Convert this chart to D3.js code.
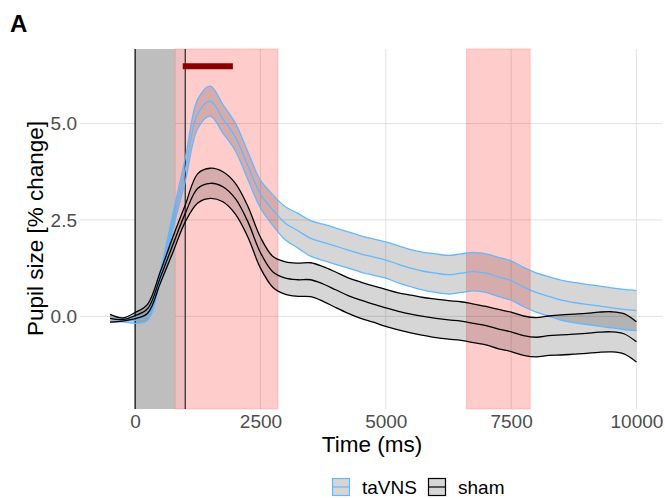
<!DOCTYPE html>
<html lang="en">
<head>
    <meta charset="UTF-8">
    <title>Pupil size - taVNS vs sham</title>
    <style>
        body{ margin:0; background:#fff;}
        svg{ display:block; font-family:"Liberation Sans", Arial, sans-serif;}
        .grid line{ stroke:#e2e2e2; stroke-width:1;}
        .tick text{ fill:#4d4d4d; font-size:19px;}
    </style>
</head>
<body>

<script src="https://cdn.jsdelivr.net/npm/d3@7"></script>
<script>

// time axis (ms)
var time = [-500, -250, 0, 250, 500, 750, 1000, 1250, 1500, 1750, 2000, 2250, 2500, 2750,
    3000, 3250, 3500, 3750, 4000, 4250, 4500, 4750, 5000, 5250, 5500, 5750, 6000, 6250,
    6500, 6750, 7000, 7250, 7500, 7750, 8000, 8250, 8500, 8750, 9000, 9250, 9500, 9750, 10000];

// mean pupil size (% change) and half width of the band
var tavnsMean = [-0.05, -0.10, -0.10, 0.00, 1.05, 2.45, 3.80, 5.25, 5.58, 5.12, 4.65, 3.90, 3.17, 2.75,
    2.41, 2.22, 2.02, 1.92, 1.82, 1.72, 1.62, 1.54, 1.46, 1.35, 1.25, 1.17, 1.12, 1.08,
    1.12, 1.16, 1.12, 1.02, 0.93, 0.76, 0.62, 0.52, 0.42, 0.36, 0.31, 0.27, 0.22, 0.18, 0.15];
var tavnsCi = [0.10, 0.04, 0.08, 0.10, 0.12, 0.20, 0.30, 0.38, 0.39, 0.37, 0.36, 0.36, 0.36, 0.40,
    0.43, 0.45, 0.46, 0.47, 0.47, 0.47, 0.47, 0.47, 0.47, 0.48, 0.48, 0.49, 0.50, 0.50,
    0.50, 0.50, 0.50, 0.51, 0.51, 0.51, 0.51, 0.51, 0.52, 0.52, 0.52, 0.52, 0.52, 0.52, 0.52];

var shamMean = [-0.05, -0.08, 0.02, 0.20, 1.00, 1.85, 2.67, 3.32, 3.45, 3.36, 3.05, 2.45, 1.65, 1.15,
    0.99, 0.95, 0.95, 0.84, 0.69, 0.54, 0.42, 0.32, 0.22, 0.13, 0.06, 0.00, -0.05, -0.09,
    -0.12, -0.18, -0.24, -0.33, -0.40, -0.50, -0.54, -0.50, -0.48, -0.46, -0.44, -0.41, -0.40, -0.45, -0.66];
var shamCi = [0.10, 0.04, 0.08, 0.12, 0.15, 0.20, 0.22, 0.38, 0.39, 0.39, 0.40, 0.40, 0.40, 0.40,
    0.42, 0.43, 0.44, 0.45, 0.46, 0.46, 0.47, 0.47, 0.48, 0.48, 0.49, 0.49, 0.50, 0.50,
    0.50, 0.50, 0.50, 0.51, 0.51, 0.51, 0.51, 0.51, 0.52, 0.52, 0.52, 0.52, 0.52, 0.52, 0.52];

// shaded windows (ms)
var baselineWin = [0, 800];
var stimWin = [800, 1000];
var sigWins = [[800, 2850], [6610, 7880]];
var sigBar = [950, 1950];
var markers = [0, 1000];

var xTicks = [0, 2500, 5000, 7500, 10000];
var yTicks = [0, 2.5, 5];

var groups = ["taVNS", "sham"];
var groupColor = { taVNS: "#63B8FF", sham: "#000000" };

var width = 665, height = 498;
var panel = { left: 80, right: 662, top: 49, bottom: 409 };

var svg = d3.select("body").append("svg")
        .attr("width", width)
        .attr("height", height);

var x = d3.scaleLinear().domain([-1100, 10510]).range([panel.left, panel.right]);
var y = d3.scaleLinear().domain([-2.40, 6.93]).range([panel.bottom, panel.top]);

// grid
var grid = svg.append("g").attr("class", "grid");
grid.selectAll(".gx").data(xTicks).enter().append("line")
        .attr("x1", function(d){ return x(d); }).attr("x2", function(d){ return x(d); })
        .attr("y1", panel.top).attr("y2", panel.bottom);
grid.selectAll(".gy").data(yTicks).enter().append("line")
        .attr("x1", panel.left).attr("x2", panel.right)
        .attr("y1", function(d){ return y(d); }).attr("y2", function(d){ return y(d); });

// baseline window
svg.append("rect")
        .attr("x", x(baselineWin[0])).attr("width", x(baselineWin[1]) - x(baselineWin[0]))
        .attr("y", panel.top).attr("height", panel.bottom - panel.top)
        .attr("fill", "#bebebe");

// significant windows
svg.selectAll(".sig").data(sigWins).enter().append("rect")
        .attr("x", function(d){ return x(d[0]); })
        .attr("width", function(d){ return x(d[1]) - x(d[0]); })
        .attr("y", panel.top).attr("height", panel.bottom - panel.top)
        .attr("fill", "rgba(255,0,0,0.2)")
        .attr("stroke", "rgba(255,120,120,0.35)");

svg.append("rect")
        .attr("x", x(stimWin[0])).attr("width", x(stimWin[1]) - x(stimWin[0]))
        .attr("y", panel.top).attr("height", panel.bottom - panel.top)
        .attr("fill", "rgba(0,0,0,0.06)");

// build rows
function rows(mean, ci){
    return time.map(function(t, i){
        return { t: t, m: mean[i], lo: mean[i] - ci[i], hi: mean[i] + ci[i] };
    });
}
var series = {
    taVNS: rows(tavnsMean, tavnsCi),
    sham: rows(shamMean, shamCi)
};

var curve = d3.curveCatmullRom.alpha(0.5);
var area = d3.area().curve(curve)
        .x(function(d){ return x(d.t); })
        .y0(function(d){ return y(d.lo); })
        .y1(function(d){ return y(d.hi); });

function lineOf(key){
    return d3.line().curve(curve)
            .x(function(d){ return x(d.t); })
            .y(function(d){ return y(d[key]); });
}

groups.forEach(function(g){
    svg.append("path").attr("d", area(series[g]))
            .attr("fill", "rgba(0,0,0,0.16)");
});

// marker lines
svg.selectAll(".mk").data(markers).enter().append("line")
        .attr("x1", function(d){ return x(d); }).attr("x2", function(d){ return x(d); })
        .attr("y1", panel.top).attr("y2", panel.bottom)
        .attr("stroke", function(d, i){ return i === 0 ? "#111" : "#333"; })
        .attr("stroke-width", 1.3);

groups.forEach(function(g){
    ["lo", "m", "hi"].forEach(function(k){
        svg.append("path").attr("d", lineOf(k)(series[g]))
                .attr("fill", "none")
                .attr("stroke", groupColor[g])
                .attr("stroke-width", 1.3);
    });
});

// significance bar
svg.append("line")
        .attr("x1", x(sigBar[0])).attr("x2", x(sigBar[1]))
        .attr("y1", y(6.48)).attr("y2", y(6.48))
        .attr("stroke", "#8B0000").attr("stroke-width", 6);

// axes
var xAxis = svg.append("g")
        .attr("transform", "translate(0," + panel.bottom + ")")
        .call(d3.axisBottom(x).tickValues(xTicks).tickSize(0).tickPadding(6).tickFormat(d3.format("d")));
xAxis.select(".domain").remove();

var yAxis = svg.append("g")
        .attr("transform", "translate(" + panel.left + ",0)")
        .call(d3.axisLeft(y).tickValues(yTicks).tickSize(0).tickPadding(3).tickFormat(d3.format(".1f")));
yAxis.select(".domain").remove();

svg.append("text")
        .attr("x", 372).attr("y", 452)
        .attr("text-anchor", "middle")
        .style("font-size", "22.5px")
        .text("Time (ms)");

svg.append("text")
        .attr("transform", "translate(43,228.5) rotate(-90)")
        .attr("text-anchor", "middle")
        .style("font-size", "22.5px")
        .text("Pupil size [% change]");

svg.append("text")
        .attr("x", 10).attr("y", 32)
        .style("font-size", "24px").style("font-weight", "bold")
        .text("A");

// legend
var legend = svg.append("g").attr("transform", "translate(332,478)");
var keyX = { taVNS: 0, sham: 96 };
groups.forEach(function(g){
    var k = legend.append("g").attr("transform", "translate(" + keyX[g] + ",0)");
    k.append("rect").attr("x", 0.5).attr("y", 0.5).attr("width", 17).attr("height", 17)
            .attr("fill", "rgba(0,0,0,0.16)").attr("stroke", groupColor[g]).attr("stroke-width", 1.2);
    k.append("line").attr("x1", 0.5).attr("x2", 17.5).attr("y1", 9).attr("y2", 9)
            .attr("stroke", groupColor[g]).attr("stroke-width", 1.2);
    k.append("text").attr("x", 30).attr("y", 16)
            .style("font-size", "19px").attr("fill", "#000")
            .text(g);
});

</script>

</body>
</html>
